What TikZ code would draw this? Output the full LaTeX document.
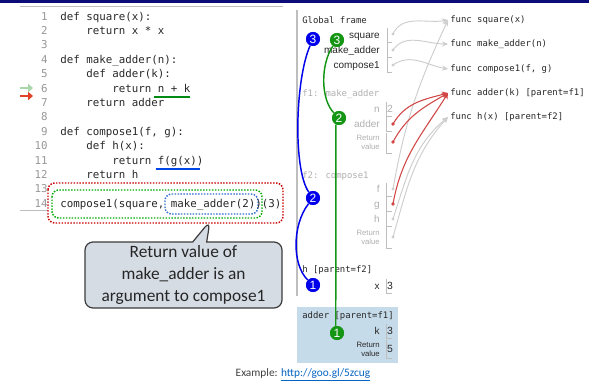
\documentclass[tikz,border=0pt]{standalone}
\usepackage{fontspec}
\setmainfont{Carlito}
\newfontfamily\codefont{DejaVu Sans Mono}
\newfontfamily\helv{Liberation Sans}
\usetikzlibrary{shapes.callouts,arrows.meta}
\definecolor{navy}{RGB}{12,12,120}
\definecolor{codetxt}{RGB}{40,40,40}
\definecolor{lnum}{RGB}{150,150,150}
\definecolor{faded}{RGB}{175,175,175}
\definecolor{brkgray}{RGB}{190,190,190}
\definecolor{ptrgray}{RGB}{205,205,205}
\definecolor{ptrred}{RGB}{210,70,70}
\definecolor{ulgreen}{RGB}{0,140,20}
\definecolor{ulblue}{RGB}{0,70,230}
\definecolor{dotred}{RGB}{200,0,0}
\definecolor{dotgreen}{RGB}{0,170,0}
\definecolor{dotblue}{RGB}{50,110,210}
\definecolor{calloutfill}{RGB}{213,220,228}
\definecolor{calloutdraw}{RGB}{60,60,60}
\definecolor{circblue}{RGB}{0,0,235}
\definecolor{circgreen}{RGB}{20,150,20}
\definecolor{adderbg}{RGB}{198,219,233}
\definecolor{lightarrow}{RGB}{170,215,170}
\definecolor{redarrow}{RGB}{225,65,40}
\definecolor{linkblue}{RGB}{5,99,193}
\definecolor{exgray}{RGB}{64,64,64}
\begin{document}
\begin{tikzpicture}[x=0.75pt,y=-0.75pt,
  codeline/.style={anchor=mid west, inner sep=0pt, text=codetxt, font=\codefont\fontsize{8.1}{10}\selectfont},
  linenum/.style={anchor=mid east, inner sep=0pt, text=lnum, font=\codefont\fontsize{8.1}{10}\selectfont},
  framelbl/.style={anchor=mid west, inner sep=0pt, text=codetxt, font=\codefont\fontsize{6.7}{8}\selectfont},
  funcobj/.style={anchor=west, inner sep=1.5pt, text=codetxt, font=\codefont\fontsize{6.7}{8}\selectfont},
  varname/.style={anchor=mid east, inner sep=0pt, text=codetxt, font=\helv\fontsize{7.5}{9}\selectfont},
  retname/.style={anchor=east, inner sep=0pt, align=right, text=faded, font=\helv\fontsize{5.8}{6.6}\selectfont},
  varval/.style={anchor=mid, inner sep=0pt, text=codetxt, font=\helv\fontsize{7.8}{9}\selectfont},
  brk/.style={draw=brkgray, line width=0.6pt},
  ptrdot/.style={circle, inner sep=0pt, minimum size=2.6pt, fill=ptrgray},
  reddot/.style={circle, inner sep=0pt, minimum size=2.8pt, fill=ptrred},
  ptr/.style={draw=ptrgray, line width=0.7pt, -{Stealth[length=4.5pt,width=4pt]}},
  redptr/.style={draw=ptrred, line width=0.8pt, -{Stealth[length=4.5pt,width=4.5pt]}},
  dotbox/.style={line width=1.1pt, dash pattern=on 1.1pt off 1.1pt, rounded corners=5pt},
  bcirc/.style={circle, fill=circblue, text=white, inner sep=0pt, minimum size=10.5pt, font=\helv\fontsize{9}{9}\selectfont},
  gcirc/.style={circle, fill=circgreen, text=white, inner sep=0pt, minimum size=10.5pt, font=\helv\fontsize{9}{9}\selectfont},
  bline/.style={draw=circblue, line width=1.1pt},
  gline/.style={draw=circgreen, line width=1.1pt},
  stepmark/.style={line width=2.2pt, -{Triangle[length=3.6pt,width=6pt]}}
]
\useasboundingbox (0,0) rectangle (589,381);
% top bar
\fill[navy] (0,0) rectangle (589,3.5);
% code panel borders
\draw[brkgray, line width=0.7pt] (20,6.5) -- (283,6.5);
\draw[brkgray, line width=0.7pt] (20,210.5) -- (283,210.5);
% dotted boxes (white fill)
\draw[dotbox, draw=dotred, fill=white] (48,183) rectangle (283,223);
\draw[dotbox, draw=dotgreen] (52,190) rectangle (262,218);
\draw[dotbox, draw=dotblue] (165,194) rectangle (258,214);
% line numbers
\foreach \i in {1,...,14} {
  \node[linenum] (ln\i) at (48,{17+14.4*(\i-1)}) {\i};
}
% code
\node[codeline] (c1) at (60,17) {def square(x):};
\node[codeline] (c2) at (86,31.4) {return x * x};
\node[codeline] (c4) at (60,60.2) {def make\_adder(n):};
\node[codeline] (c5) at (86,74.6) {def adder(k):};
\node[codeline] (c6) at (112,89) {return n + k};
\node[codeline] (c7) at (86,103.4) {return adder};
\node[codeline] (c9) at (60,132.2) {def compose1(f, g):};
\node[codeline] (c10) at (86,146.6) {def h(x):};
\node[codeline] (c11) at (112,161) {return f(g(x))};
\node[codeline] (c12) at (86,175.4) {return h};
\node[codeline] (c14) at (60,204.2) {compose1(square, make\_adder(2))(3)};
% underlines
\draw[ulgreen, line width=1.6pt] (154,97) -- (190,97);
\draw[ulblue, line width=1.6pt] (156,169) -- (200,169);
% step arrows
\coordinate (ga0) at (20,88); \coordinate (ga1) at (33,88);
\coordinate (ra0) at (20,96); \coordinate (ra1) at (33,96);
\draw[stepmark, lightarrow] (ga0) -- (ga1);
\draw[stepmark, redarrow] (ra0) -- (ra1);
% callout
\node[rectangle callout, rounded corners=6pt, draw=calloutdraw, fill=calloutfill, line width=0.9pt,
  minimum width=147.75pt, minimum height=49.5pt, callout pointer width=10.5pt,
  callout absolute pointer={(210,221)}, align=center, text=black!85,
  font=\fontsize{13}{16.2}\selectfont, inner sep=0pt] (note) at (183.5,275) {Return value of\\make\_adder is an\\argument to compose1};
% ===== right panel =====
\draw[brkgray, line width=0.9pt] (297,10) -- (297,296);
\fill[adderbg] (297,307) rectangle (398,363);
% frame labels
\node[framelbl] (gf) at (302,20) {Global frame};
\node[framelbl, text=faded] (f1l) at (302,93) {f1: make\_adder};
\node[framelbl, text=faded] (f2l) at (302,175) {f2: compose1};
\node[framelbl] (hl) at (302,269) {h [parent=f2]};
\node[framelbl] (al) at (302,315) {adder [parent=f1]};
% global frame vars
\node[varname] (vsq) at (380,35) {square};
\node[varname] (vma) at (380,50) {make\_adder};
\node[varname] (vco) at (380,65) {compose1};
\draw[brk] (387,28) |- (392,42);
\draw[brk] (387,43) |- (392,57);
\draw[brk] (387,58) |- (392,72);
% f1 vars
\node[varname, text=faded] (vn) at (380,109) {n};
\node[varname, text=faded] (vad) at (380,124) {adder};
\node[retname] (vr1) at (380,142) {Return\\value};
\draw[brk] (386,102) |- (392,116);
\draw[brk] (386,117) |- (392,131);
\draw[brk] (386,133) |- (392,153);
\node[varval, text=faded] (val2) at (390,109) {2};
% f2 vars
\node[varname, text=faded] (vf) at (380,189) {f};
\node[varname, text=faded] (vg) at (380,204) {g};
\node[varname, text=faded] (vh) at (380,219) {h};
\node[retname] (vr2) at (380,237) {Return\\value};
\draw[brk] (386,183) |- (392,196);
\draw[brk] (386,197) |- (392,211);
\draw[brk] (386,212) |- (392,226);
\draw[brk] (386,227) |- (392,248);
% h frame
\node[varname] (vx) at (380,286) {x};
\draw[brk] (386,279) |- (392,293);
\node[varval] (val3a) at (390,286) {3};
% adder frame
\node[varname] (vk) at (380,331) {k};
\node[retname, text=codetxt] (vr3) at (380,349) {Return\\value};
\draw[brk] (386,324) |- (392,338);
\draw[brk] (386,340) |- (392,358);
\node[varval] (val3b) at (390,331) {3};
\node[varval] (val5) at (390,349) {5};
% function objects
\node[funcobj] (fsq) at (448,20) {func square(x)};
\node[funcobj] (fma) at (448,44) {func make\_adder(n)};
\node[funcobj] (fco) at (448,69) {func compose1(f, g)};
\node[funcobj] (fad) at (448,93) {func adder(k) [parent=f1]};
\node[funcobj] (fh) at (448,117) {func h(x) [parent=f2]};
% pointer dots
\node[ptrdot] (dsq) at (393,34) {};
\node[ptrdot] (dma) at (393,50) {};
\node[ptrdot] (dco) at (393,65) {};
\node[reddot] (dad) at (393,124) {};
\node[reddot] (dr1) at (393,142) {};
\node[ptrdot] (df) at (393,189) {};
\node[reddot] (dg) at (393,204) {};
\node[ptrdot] (dh) at (393,219) {};
\node[ptrdot] (dr2) at (393,237) {};
% pointers
\draw[ptr] (dsq.center) to[out=65,in=190] (fsq.west);
\draw[ptr] (dma.center) to[out=55,in=180] (fma.west);
\draw[ptr] (dco.center) to[out=35,in=170] (fco.west);
\draw[ptr] (df.center) to[out=80,in=245] (fsq.west);
\draw[ptr] (dh.center) to[out=72,in=220] (fh.west);
\draw[ptr] (dr2.center) to[out=74,in=228] (fh.west);
\draw[redptr] (dad.center) to[out=60,in=195] (fad.west);
\draw[redptr] (dr1.center) to[out=62,in=210] (fad.west);
\draw[redptr] (dg.center) to[out=80,in=238] (fad.west);
% step circles
\node[bcirc] (b3) at (313,39) {3};
\node[bcirc] (b2) at (313,198) {2};
\node[bcirc] (b1) at (313,285) {1};
\node[gcirc] (g3) at (337,40) {3};
\node[gcirc] (g2) at (339,118) {2};
\node[gcirc] (g1) at (337,333) {1};
\draw[bline] (b3) .. controls (295,80) and (293,170) .. (b2);
\draw[bline] (b2) .. controls (292,225) and (292,265) .. (b1);
\draw[gline] (g3) .. controls (320,65) and (321,100) .. (g2);
\draw[gline] (g2.245) -- (g1.100);
% redraw circles on top
\node[bcirc] at (b3) {3};
\node[bcirc] at (b2) {2};
\node[bcirc] at (b1) {1};
\node[gcirc] at (g3) {3};
\node[gcirc] at (g2) {2};
\node[gcirc] at (g1) {1};
% example link
\node[inner sep=0pt, anchor=mid, font=\fontsize{8.5}{10}\selectfont] (ex) at (303,373)
  {\textcolor{exgray}{Example:} \textcolor{linkblue}{\underline{http://goo.gl/5zcug}}};
\end{tikzpicture}
\end{document}
